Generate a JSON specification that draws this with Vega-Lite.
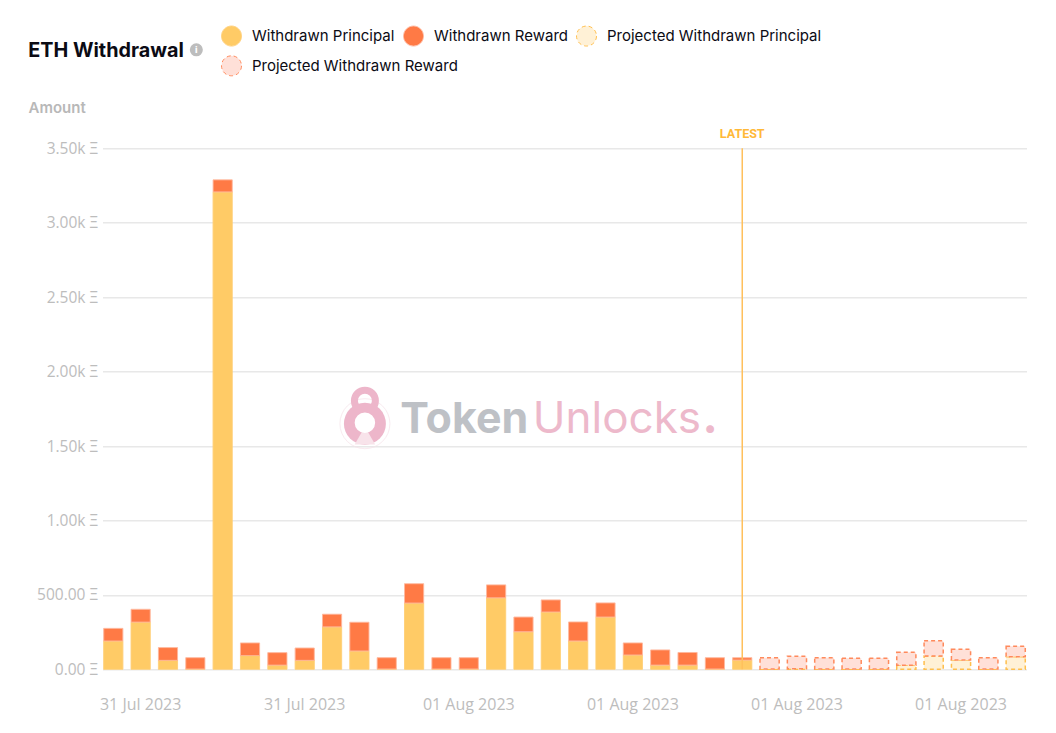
{
"$schema":"https://vega.github.io/schema/vega-lite/v6.json",
"width":924,"height":521,
"autosize":{"type":"none"},
"padding":{"left":102.5,"top":148.3,"right":29.5,"bottom":63.7},
"background":"#ffffff",
"config":{"font":"Inter","view":{"stroke":null}},
"datasets":{"bars":[
{"time":"2023-07-31T16:00","series":"Withdrawn Principal","amount":190},{"time":"2023-07-31T16:00","series":"Withdrawn Reward","amount":85},
{"time":"2023-07-31T17:00","series":"Withdrawn Principal","amount":317},{"time":"2023-07-31T17:00","series":"Withdrawn Reward","amount":86},
{"time":"2023-07-31T18:00","series":"Withdrawn Principal","amount":60},{"time":"2023-07-31T18:00","series":"Withdrawn Reward","amount":86},
{"time":"2023-07-31T19:00","series":"Withdrawn Principal","amount":2},{"time":"2023-07-31T19:00","series":"Withdrawn Reward","amount":76},
{"time":"2023-07-31T20:00","series":"Withdrawn Principal","amount":3207},{"time":"2023-07-31T20:00","series":"Withdrawn Reward","amount":81},
{"time":"2023-07-31T21:00","series":"Withdrawn Principal","amount":92},{"time":"2023-07-31T21:00","series":"Withdrawn Reward","amount":85},
{"time":"2023-07-31T22:00","series":"Withdrawn Principal","amount":28},{"time":"2023-07-31T22:00","series":"Withdrawn Reward","amount":84},
{"time":"2023-07-31T23:00","series":"Withdrawn Principal","amount":60},{"time":"2023-07-31T23:00","series":"Withdrawn Reward","amount":83},
{"time":"2023-08-01T00:00","series":"Withdrawn Principal","amount":285},{"time":"2023-08-01T00:00","series":"Withdrawn Reward","amount":85},
{"time":"2023-08-01T01:00","series":"Withdrawn Principal","amount":123},{"time":"2023-08-01T01:00","series":"Withdrawn Reward","amount":193},
{"time":"2023-08-01T02:00","series":"Withdrawn Principal","amount":2},{"time":"2023-08-01T02:00","series":"Withdrawn Reward","amount":76},
{"time":"2023-08-01T03:00","series":"Withdrawn Principal","amount":445},{"time":"2023-08-01T03:00","series":"Withdrawn Reward","amount":130},
{"time":"2023-08-01T04:00","series":"Withdrawn Principal","amount":2},{"time":"2023-08-01T04:00","series":"Withdrawn Reward","amount":76},
{"time":"2023-08-01T05:00","series":"Withdrawn Principal","amount":2},{"time":"2023-08-01T05:00","series":"Withdrawn Reward","amount":76},
{"time":"2023-08-01T06:00","series":"Withdrawn Principal","amount":480},{"time":"2023-08-01T06:00","series":"Withdrawn Reward","amount":87},
{"time":"2023-08-01T07:00","series":"Withdrawn Principal","amount":252},{"time":"2023-08-01T07:00","series":"Withdrawn Reward","amount":99},
{"time":"2023-08-01T08:00","series":"Withdrawn Principal","amount":385},{"time":"2023-08-01T08:00","series":"Withdrawn Reward","amount":81},
{"time":"2023-08-01T09:00","series":"Withdrawn Principal","amount":190},{"time":"2023-08-01T09:00","series":"Withdrawn Reward","amount":128},
{"time":"2023-08-01T10:00","series":"Withdrawn Principal","amount":351},{"time":"2023-08-01T10:00","series":"Withdrawn Reward","amount":95},
{"time":"2023-08-01T11:00","series":"Withdrawn Principal","amount":96},{"time":"2023-08-01T11:00","series":"Withdrawn Reward","amount":81},
{"time":"2023-08-01T12:00","series":"Withdrawn Principal","amount":28},{"time":"2023-08-01T12:00","series":"Withdrawn Reward","amount":102},
{"time":"2023-08-01T13:00","series":"Withdrawn Principal","amount":28},{"time":"2023-08-01T13:00","series":"Withdrawn Reward","amount":85},
{"time":"2023-08-01T14:00","series":"Withdrawn Principal","amount":2},{"time":"2023-08-01T14:00","series":"Withdrawn Reward","amount":76},
{"time":"2023-08-01T15:00","series":"Withdrawn Principal","amount":62},{"time":"2023-08-01T15:00","series":"Withdrawn Reward","amount":16},
{"time":"2023-08-01T16:00","series":"Projected Withdrawn Principal","amount":2},{"time":"2023-08-01T16:00","series":"Projected Withdrawn Reward","amount":76},
{"time":"2023-08-01T17:00","series":"Projected Withdrawn Principal","amount":4},{"time":"2023-08-01T17:00","series":"Projected Withdrawn Reward","amount":83},
{"time":"2023-08-01T18:00","series":"Projected Withdrawn Principal","amount":2},{"time":"2023-08-01T18:00","series":"Projected Withdrawn Reward","amount":76},
{"time":"2023-08-01T19:00","series":"Projected Withdrawn Principal","amount":2},{"time":"2023-08-01T19:00","series":"Projected Withdrawn Reward","amount":73},
{"time":"2023-08-01T20:00","series":"Projected Withdrawn Principal","amount":2},{"time":"2023-08-01T20:00","series":"Projected Withdrawn Reward","amount":73},
{"time":"2023-08-01T21:00","series":"Projected Withdrawn Principal","amount":28},{"time":"2023-08-01T21:00","series":"Projected Withdrawn Reward","amount":86},
{"time":"2023-08-01T22:00","series":"Projected Withdrawn Principal","amount":90},{"time":"2023-08-01T22:00","series":"Projected Withdrawn Reward","amount":102},
{"time":"2023-08-01T23:00","series":"Projected Withdrawn Principal","amount":62},{"time":"2023-08-01T23:00","series":"Projected Withdrawn Reward","amount":72},
{"time":"2023-08-02T00:00","series":"Projected Withdrawn Principal","amount":2},{"time":"2023-08-02T00:00","series":"Projected Withdrawn Reward","amount":76},
{"time":"2023-08-02T01:00","series":"Projected Withdrawn Principal","amount":85},{"time":"2023-08-02T01:00","series":"Projected Withdrawn Reward","amount":70}
]},
"data":{"name":"bars"},
"layer":[
{"mark":{"type":"bar","width":{"band":0.96},"clip":false},
 "encoding":{
  "x":{"field":"time","type":"ordinal","sort":null,"title":null,
   "scale":{"paddingInner":0.27,"paddingOuter":0.03},
   "axis":{"values":["2023-07-31T17:00","2023-07-31T23:00","2023-08-01T05:00","2023-08-01T11:00","2023-08-01T17:00","2023-08-01T23:00"],
    "labelExpr":"timeFormat(toDate(datum.value),'%d %b %Y')","labelAngle":0,"domain":false,"ticks":false,"labelColor":"#bdbdbd","labelFontSize":16,"labelPadding":27,"labelFont":"Open Sans","grid":false}},
  "y":{"field":"amount","type":"quantitative","stack":"zero","title":"Amount",
   "scale":{"domain":[0,3500],"nice":false},
   "axis":{"values":[0,500,1000,1500,2000,2500,3000,3500],"labelExpr":"datum.value>=1000?format(datum.value/1000,'.2f')+'k Ξ':format(datum.value,'.2f')+' Ξ'","domain":false,"ticks":false,"gridColor":"#e8e8e8","gridWidth":1.5,"labelColor":"#bdbdbd","labelFontSize":15.5,"labelPadding":5,"labelFont":"Open Sans","titleColor":"#b8b8b8","titleFontSize":15,"titleFontWeight":600,"titleAngle":0,"titleX":-74.5,"titleY":-41,"titleAlign":"left","titleBaseline":"middle"}},
  "fill":{"field":"series","type":"nominal",
   "scale":{"domain":["Withdrawn Principal","Withdrawn Reward","Projected Withdrawn Principal","Projected Withdrawn Reward"],"range":["#FFCB66","#FF7A45","#FFF1D6","#FFE0D8"]},
   "legend":{"title":null,"orient":"none","legendX":118.5,"legendY":-123,"columns":3,"columnPadding":6,"values":["Withdrawn Principal","Withdrawn Reward","Projected Withdrawn Principal"],"symbolType":"circle","symbolSize":400,"symbolStrokeWidth":1,"labelFontSize":15,"labelColor":"#0b0b14","labelFont":"Inter","labelLimit":300,"labelOffset":10,
     "encode":{"symbols":{"update":{"stroke":{"scale":"stroke","field":"value"},"strokeDash":{"scale":"strokeDash","field":"value"},"fillOpacity":{"value":1}}}}}},
  "stroke":{"field":"series","type":"nominal",
   "scale":{"domain":["Projected Withdrawn Reward","Projected Withdrawn Principal","Withdrawn Reward","Withdrawn Principal"],"range":["#FF8A5C","#FFBF4D","#FFB89E","#FFCE73"]},
   "legend":{"title":null,"orient":"none","legendX":118.5,"legendY":-93,"columns":1,"values":["Projected Withdrawn Reward"],"symbolType":"circle","symbolSize":400,"symbolStrokeWidth":1,"symbolFillColor":"#FFE0D8","symbolDash":[4,3],"labelFontSize":15,"labelColor":"#0b0b14","labelFont":"Inter","labelLimit":300,"labelOffset":10,
     "encode":{"symbols":{"update":{"fill":{"value":"#FFE0D8"},"strokeDash":{"value":[4,3]},"fillOpacity":{"value":1}}}}}},
  "strokeDash":{"field":"series","type":"nominal","legend":null,
   "scale":{"domain":["Withdrawn Principal","Withdrawn Reward","Projected Withdrawn Principal","Projected Withdrawn Reward"],"range":[[1,0],[1,0],[4,3],[4,3]]}},
  "strokeWidth":{"condition":{"test":"indexof(datum.series,'Projected')==0","value":1.5},"value":1},
  "order":{"field":"series","type":"nominal"}
 }},
{"data":{"values":[{"time":"2023-08-01T15:00","amount":3500,"label":"LATEST"}]},
 "mark":{"type":"rule","color":"#FFC05C","strokeWidth":1.5},
 "encoding":{"x":{"field":"time","type":"ordinal","sort":null},"y":{"field":"amount","type":"quantitative"},"y2":{"datum":0}}},
{"data":{"values":[{"time":"2023-08-01T15:00","amount":3500,"label":"LATEST"}]},
 "mark":{"type":"text","color":"#FFB938","fontSize":12.5,"fontWeight":700,"font":"Roboto","dy":-14},
 "encoding":{"x":{"field":"time","type":"ordinal","sort":null},"y":{"field":"amount","type":"quantitative"},"text":{"field":"label"}}},
{"mark":{"type":"point","shape":"circle","filled":false,"stroke":"#f7e3ea","strokeWidth":1,"size":2500,"xOffset":5.5,"yOffset":0},
 "data":{"values":[{}]},"encoding":{"x":{"datum":"2023-08-01T01:00"},"y":{"datum":1650}}},
{"mark":{"type":"point","shape":"circle","filled":false,"stroke":"#EDB6CA","strokeWidth":7,"size":440,"xOffset":5.5,"yOffset":-23,"opacity":1},
 "data":{"values":[{}]},"encoding":{"x":{"datum":"2023-08-01T01:00"},"y":{"datum":1650}}},
{"mark":{"type":"point","shape":"circle","filled":true,"fill":"#EDB6CA","size":1760,"xOffset":5.5,"yOffset":0,"opacity":1},
 "data":{"values":[{}]},"encoding":{"x":{"datum":"2023-08-01T01:00"},"y":{"datum":1650}}},
{"mark":{"type":"point","shape":"triangle-up","filled":true,"fill":"#F8E3EA","size":420,"xOffset":5.5,"yOffset":12,"opacity":1},
 "data":{"values":[{}]},"encoding":{"x":{"datum":"2023-08-01T01:00"},"y":{"datum":1650}}},
{"mark":{"type":"point","shape":"circle","filled":true,"fill":"#ffffff","size":420,"xOffset":5.5,"yOffset":-1,"opacity":1},
 "data":{"values":[{}]},"encoding":{"x":{"datum":"2023-08-01T01:00"},"y":{"datum":1650}}},
{"mark":{"type":"text","text":"Token","font":"Inter","fontWeight":700,"fontSize":43,"fill":"#BEC1C6","align":"left","baseline":"alphabetic","dx":13.5,"dy":9},
 "data":{"values":[{}]},"encoding":{"x":{"datum":"2023-08-01T02:00"},"y":{"datum":1650}}},
{"mark":{"type":"text","text":"Unlocks","font":"Inter","fontWeight":400,"fontSize":44,"fill":"#EDB9CB","align":"left","baseline":"alphabetic","dx":146,"dy":9},
 "data":{"values":[{}]},"encoding":{"x":{"datum":"2023-08-01T02:00"},"y":{"datum":1650}}},
{"mark":{"type":"text","text":".","font":"Inter","fontWeight":800,"fontSize":42,"fill":"#EDB9CB","align":"left","baseline":"alphabetic","dx":316,"dy":9},
 "data":{"values":[{}]},"encoding":{"x":{"datum":"2023-08-01T02:00"},"y":{"datum":1650}}},
{"mark":{"type":"text","text":"ETH Withdrawal","font":"Inter","fontWeight":700,"fontSize":19.8,"fill":"#0b0b14","align":"left","baseline":"middle","dx":-85,"dy":-97},
 "data":{"values":[{}]},"encoding":{"x":{"datum":"2023-07-31T16:00"},"y":{"datum":3500}}},
{"mark":{"type":"point","shape":"circle","filled":true,"fill":"#BDBDBD","size":170,"xOffset":1,"yOffset":-98.5,"opacity":1},
 "data":{"values":[{}]},"encoding":{"x":{"datum":"2023-07-31T19:00"},"y":{"datum":3500}}},
{"mark":{"type":"text","text":"i","font":"Inter","fontWeight":800,"fontSize":9,"fill":"#ffffff","dx":1,"dy":-98.5},
 "data":{"values":[{}]},"encoding":{"x":{"datum":"2023-07-31T19:00"},"y":{"datum":3500}}}
]
}
